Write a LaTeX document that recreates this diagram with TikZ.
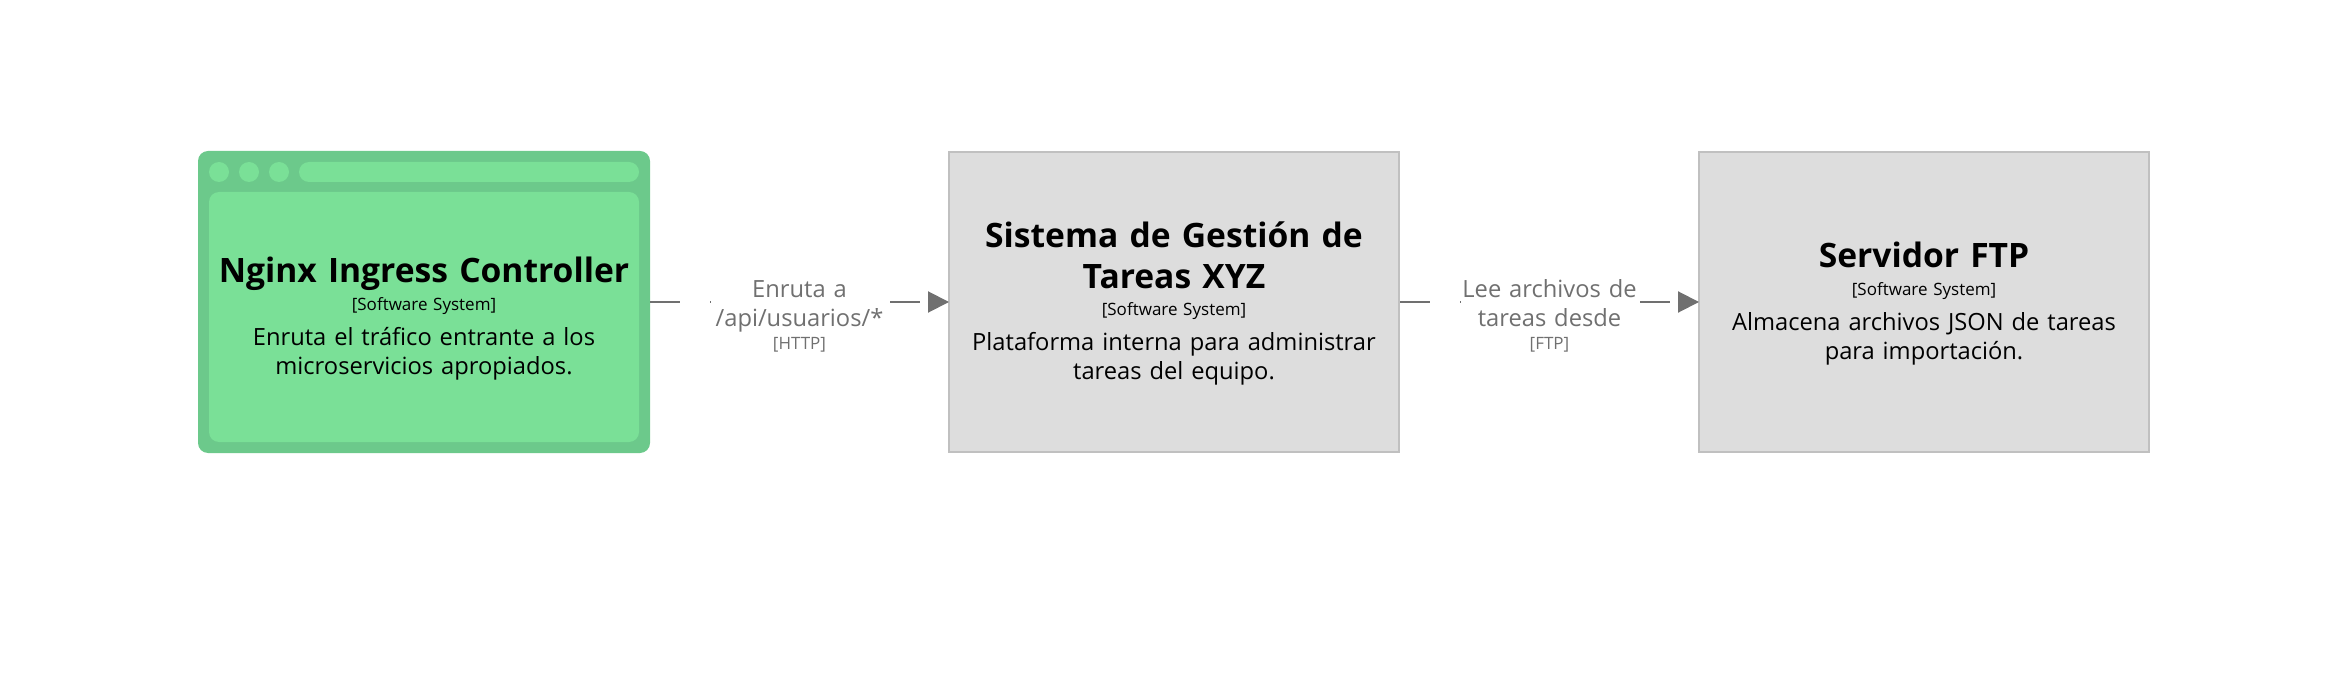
\documentclass[tikz,border=0pt]{standalone}
\usepackage{fontspec}
\setmainfont{Open Sans}
\usetikzlibrary{arrows.meta}
\definecolor{greenouter}{HTML}{6CC98B}
\definecolor{greeninner}{HTML}{7AE097}
\definecolor{greybox}{HTML}{DDDDDD}
\definecolor{greyedge}{HTML}{C0C0C0}
\definecolor{labelgrey}{HTML}{707070}
\tikzset{
  sysbox/.style={draw=greyedge,line width=2pt,fill=greybox,minimum width=450pt,minimum height=300pt,inner sep=0pt,anchor=north west},
  outerbox/.style={fill=greenouter,rounded corners=10pt,minimum width=452pt,minimum height=302pt,inner sep=0pt,outer sep=0pt,anchor=north west},
  innerbox/.style={fill=greeninner,rounded corners=10pt,inner sep=0pt,outer sep=0pt,anchor=north west},
  dotc/.style={circle,fill=greeninner,minimum size=20pt,inner sep=0pt,outer sep=0pt},
  ttl/.style={inner sep=0pt,anchor=base,text width=440pt,align=center,font=\fontsize{33.6}{41}\selectfont\bfseries},
  meta/.style={inner sep=0pt,anchor=base,text width=440pt,align=center,font=\fontsize{17}{22}\selectfont},
  descr/.style={inner sep=0pt,anchor=base,text width=440pt,align=center,font=\fontsize{23.7}{28.5}\selectfont},
  conn/.style={draw=labelgrey,line width=2pt,dash pattern=on 30pt off 30pt,shorten >=-1pt,-{Triangle[length=21pt,width=21pt,fill=labelgrey]}},
  edgelab/.style={fill=white,inner sep=0pt,text=labelgrey,anchor=base,text width=178pt,align=center,font=\fontsize{23.7}{29}\selectfont},
  edgetech/.style={inner sep=0pt,text=labelgrey,anchor=base,align=center,font=\fontsize{17}{22}\selectfont}
}
\begin{document}
\begin{tikzpicture}[x=1pt,y=-1pt]
\useasboundingbox (0,0) rectangle (2350,700);
% Nginx
\node[outerbox] (nginx) at (198,151) {};
\node[dotc] (d1) at (219,172) {};
\node[dotc] (d2) at (249,172) {};
\node[dotc] (d3) at (279,172) {};
\node[innerbox,minimum width=340pt,minimum height=20pt] (bar) at (299,162) {};
\node[innerbox,minimum width=430pt,minimum height=250pt] (inner) at (209,192) {};
\node[ttl] (t1) at (424,283) {Nginx Ingress Controller};
\node[meta] (m1) at (424,311) {[Software System]};
\node[descr] (c1) at (424,346) {Enruta el tráfico entrante a los\\microservicios apropiados.};
% Gestion
\node[sysbox] (xyz) at (948,151) {};
\node[ttl] (t2) at (1174,248) {Sistema de Gestión de\\Tareas XYZ};
\node[meta] (m2) at (1174,316) {[Software System]};
\node[descr] (c2) at (1174,351) {Plataforma interna para administrar\\tareas del equipo.};
% FTP
\node[sysbox] (ftp) at (1698,151) {};
\node[ttl] (t3) at (1924,268) {Servidor FTP};
\node[meta] (m3) at (1924,296) {[Software System]};
\node[descr] (c3) at (1924,331) {Almacena archivos JSON de tareas\\para importación.};
% connectors
\draw[conn] (nginx.east) -- (xyz.west);
\draw[conn] (xyz.east) -- (ftp.west);
\node[edgelab] (l1) at (799.5,298) {Enruta a\\/api/usuarios/*};
\node[edgetech] (h1) at (799.5,350) {[HTTP]};
\node[edgelab] (l2) at (1549.5,298) {Lee archivos de\\tareas desde};
\node[edgetech] (h2) at (1549.5,350) {[FTP]};
\end{tikzpicture}
\end{document}
